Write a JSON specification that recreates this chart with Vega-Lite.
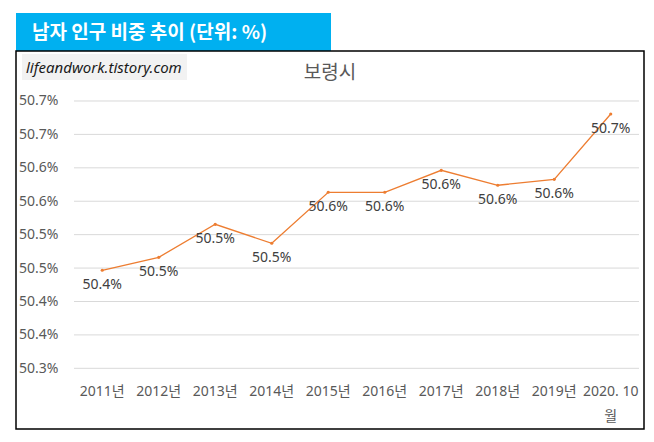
{
  "$schema": "https://vega.github.io/schema/vega-lite/v6.json",
  "background": "white",
  "padding": {"left": 15, "top": 13, "right": 0, "bottom": 0},
  "spacing": 0,
  "bounds": "flush",
  "config": {
    "font": "Noto Sans, Noto Sans CJK KR",
    "view": {"stroke": null}
  },
  "vconcat": [
    {
      "width": 315,
      "height": 38,
      "view": {"fill": "#00B0F0", "stroke": null},
      "data": {"values": [{"heading": "남자 인구 비중 추이 (단위: %)"}]},
      "mark": {
        "type": "text",
        "color": "white",
        "fontWeight": "bold",
        "fontSize": 19,
        "font": "Noto Sans CJK KR",
        "align": "center",
        "baseline": "middle",
        "dx": -24,
        "dy": 1
      },
      "encoding": {"text": {"field": "heading", "type": "nominal"}}
    },
    {
      "width": 628,
      "height": 378,
      "view": {"fill": "white", "stroke": "black", "strokeWidth": 1.5},
      "title": {
        "text": "보령시",
        "anchor": "middle",
        "fontSize": 19,
        "fontWeight": "normal",
        "color": "#595959",
        "font": "Noto Sans CJK KR",
        "baseline": "middle",
        "offset": -41
      },
      "data": {
        "values": [
          {"period": "2011년", "share": 0.504467},
          {"period": "2012년", "share": 0.504661},
          {"period": "2013년", "share": 0.505155},
          {"period": "2014년", "share": 0.504871},
          {"period": "2015년", "share": 0.505634},
          {"period": "2016년", "share": 0.505634},
          {"period": "2017년", "share": 0.505963},
          {"period": "2018년", "share": 0.505739},
          {"period": "2019년", "share": 0.505828},
          {"period": "2020. 10월", "share": 0.506805}
        ]
      },
      "layer": [
        {
          "data": {
            "values": [
              {"tick": 0.503}, {"tick": 0.5035}, {"tick": 0.504},
              {"tick": 0.5045}, {"tick": 0.505}, {"tick": 0.5055},
              {"tick": 0.506}, {"tick": 0.5065}, {"tick": 0.507}
            ]
          },
          "mark": {"type": "rule", "color": "#D9D9D9", "strokeWidth": 1},
          "encoding": {
            "x": {"datum": "2011년", "type": "nominal", "bandPosition": 0, "title": null},
            "x2": {"datum": "2020. 10월", "bandPosition": 1},
            "y": {"field": "tick", "type": "quantitative", "title": null}
          }
        },
        {
          "data": {"values": [{"site": "lifeandwork.tistory.com"}]},
          "mark": {"type": "rect", "color": "#F2F2F2", "xOffset": -52, "x2Offset": 113},
          "encoding": {
            "x": {"datum": "2011년", "type": "nominal", "bandPosition": 0, "title": null},
            "x2": {"datum": "2011년", "bandPosition": 0},
            "y": {"datum": 0.507703, "type": "quantitative", "title": null},
            "y2": {"datum": 0.507314}
          }
        },
        {
          "data": {"values": [{"site": "lifeandwork.tistory.com"}]},
          "mark": {
            "type": "text",
            "align": "left",
            "baseline": "middle",
            "fontStyle": "italic",
            "fontSize": 15,
            "color": "#1A1A1A",
            "dx": -48
          },
          "encoding": {
            "x": {"datum": "2011년", "type": "nominal", "bandPosition": 0, "title": null},
            "y": {"datum": 0.5075, "type": "quantitative", "title": null},
            "text": {"field": "site", "type": "nominal"}
          }
        },
        {
          "mark": {"type": "line", "color": "#ED7D31", "strokeWidth": 1.3},
          "encoding": {
            "x": {
              "field": "period",
              "type": "nominal",
              "sort": null,
              "title": null,
              "scale": {
                "type": "band",
                "domain": ["2011년", "2012년", "2013년", "2014년", "2015년", "2016년", "2017년", "2018년", "2019년", "2020. 10월"],
                "paddingInner": 0,
                "paddingOuter": 0.5575,
                "align": 0.9206
              },
              "axis": {
                "orient": "bottom",
                "offset": -61,
                "bandPosition": 0.5,
                "labelPadding": 16,
                "ticks": false,
                "domain": false,
                "grid": false,
                "labelAngle": 0,
                "labelAlign": "center",
                "labelFontSize": 14,
                "labelColor": "#595959",
                "labelOverlap": false,
                "labelBaseline": "top",
                "labelLineHeight": 25,
                "zindex": 1,
                "labelExpr": "datum.label == '2020. 10월' ? ['2020. 10', '월'] : datum.label"
              }
            },
            "y": {
              "field": "share",
              "type": "quantitative",
              "title": null,
              "scale": {"domain": [0.502092, 0.507748], "nice": false, "zero": false},
              "axis": {
                "orient": "left",
                "offset": -42,
                "labelPadding": 0,
                "ticks": false,
                "domain": false,
                "grid": false,
                "zindex": 1,
                "labelFontSize": 14,
                "labelColor": "#595959",
                "values": [0.503, 0.5035, 0.504, 0.5045, 0.505, 0.5055, 0.506, 0.5065, 0.507],
                "labelExpr": "format(datum.value + 1e-7, '.1%')"
              }
            }
          }
        },
        {
          "mark": {"type": "point", "filled": true, "color": "#ED7D31", "size": 10, "opacity": 1},
          "encoding": {
            "x": {"field": "period", "type": "nominal", "sort": null, "title": null},
            "y": {"field": "share", "type": "quantitative", "title": null}
          }
        },
        {
          "mark": {"type": "text", "baseline": "middle", "dy": 15, "fontSize": 14, "color": "#404040"},
          "encoding": {
            "x": {"field": "period", "type": "nominal", "sort": null, "title": null},
            "y": {"field": "share", "type": "quantitative", "title": null},
            "text": {"field": "share", "type": "quantitative", "format": ".1%"}
          }
        }
      ]
    }
  ]
}
